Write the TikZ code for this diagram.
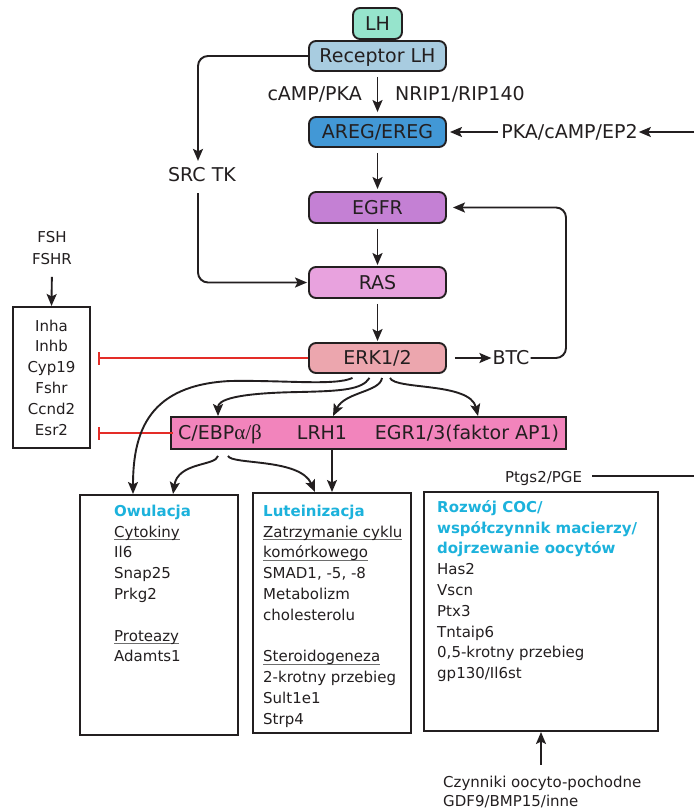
\documentclass[tikz,border=0pt]{standalone}
\usepackage{fontspec}
\setmainfont{DejaVu Sans}
\newfontfamily\greekfont{Liberation Serif}
\usetikzlibrary{arrows.meta}

\definecolor{ink}{RGB}{35,31,32}
\definecolor{lhfill}{RGB}{150,228,204}
\definecolor{recfill}{RGB}{168,204,224}
\definecolor{aregfill}{RGB}{66,152,214}
\definecolor{egfrfill}{RGB}{196,128,212}
\definecolor{rasfill}{RGB}{232,162,222}
\definecolor{erkfill}{RGB}{236,166,174}
\definecolor{tffill}{RGB}{242,132,188}
\definecolor{headcol}{RGB}{28,178,220}
\definecolor{inhcol}{RGB}{228,45,40}
\definecolor{rulecol}{RGB}{110,110,110}

\newcommand\mainsz{\fontsize{19}{23}\selectfont}
\newcommand\smallsz{\fontsize{15}{20.8}\selectfont}
\newcommand\headtxt[1]{{\bfseries\color{headcol}#1}}
\newsavebox\ulbox
\newcommand\ulword[1]{\sbox\ulbox{#1}\rlap{\color{rulecol}\rule[-2.8pt]{\wd\ulbox}{1pt}}\usebox\ulbox}
\newcommand\firststrut{\rule{0pt}{12.5pt}}

\begin{document}
\begin{tikzpicture}[x=1pt,y=-1pt,
  pbox/.style={draw=ink, line width=1.9pt, rounded corners=7pt, inner sep=0pt,
    minimum width=137pt, minimum height=30pt, font=\mainsz, text=ink,
    text height=13.8pt, text depth=0pt},
  lbl/.style={font=\mainsz, text=ink, inner sep=0pt, text height=13.8pt, text depth=0pt},
  slbl/.style={font=\smallsz, text=ink, inner sep=0pt},
  panel/.style={draw=ink, line width=2pt, fill=white, inner sep=0pt},
  arr/.style={draw=ink, line width=1.9pt, -{Stealth[length=12pt,width=10pt,inset=2.5pt]}},
  link/.style={draw=ink, line width=1.9pt},
  inh/.style={draw=inhcol, line width=1.5pt, -{Bar[width=13pt,line width=1.5pt]}}
]
\path[use as bounding box, fill=white] (0,0) rectangle (694,809);

% signalling cascade
\node[pbox, fill=recfill] (rec) at (377.5,56) {Receptor LH};
\node[pbox, fill=lhfill, minimum width=49pt, minimum height=31pt] (lh) at (377.5,23.5) {LH};
\node[pbox, fill=aregfill] (areg) at (377.5,132) {AREG/EREG};
\node[pbox, fill=egfrfill, minimum height=31pt] (egfr) at (377.5,207.5) {EGFR};
\node[pbox, fill=rasfill, minimum height=31pt] (ras) at (377.5,282.5) {RAS};
\node[pbox, fill=erkfill] (erk) at (377.5,358) {ERK1/2};

% transcription factor bar
\node[draw=ink, line width=1.9pt, fill=tffill, minimum width=395pt, minimum height=32pt, inner sep=0pt] (cebp) at (368.5,433) {};
\node[lbl] (cebpt) at (220,433) {C/EBP{\greekfont\fontsize{21}{23}\selectfont α/β}};
\node[lbl] (lrh) at (322,433) {LRH1};
\node[lbl] (egr) at (467,433) {EGR1/3(faktor AP1)};

% side labels
\node[lbl, anchor=east] (camp) at (362,94) {cAMP/PKA};
\node[lbl, anchor=west] (nrip) at (395,94) {NRIP1/RIP140};
\node[lbl] (pka) at (569.5,132) {PKA/cAMP/EP2};
\node[lbl] (src) at (202,175) {SRC TK};
\node[lbl] (btc) at (511,358) {BTC};
\coordinate (pkaend) at (694,132);
\coordinate (btcturn) at (566,207.5);

% granulosa genes
\node[slbl, align=center, font=\fontsize{15}{22}\selectfont] (fsh) at (52,248) {FSH\\FSHR};
\node[panel, minimum width=77pt, minimum height=141pt, font=\smallsz, align=center, text=ink] (genes) at (51.5,377.5) {Inha\\Inhb\\Cyp19\\Fshr\\Ccnd2\\Esr2};

% outcome panels
\node[panel, minimum width=158pt, minimum height=240pt] (owu) at (159,615) {};
\node[panel, minimum width=158pt, minimum height=240pt] (lut) at (332,613) {};
\node[panel, minimum width=234pt, minimum height=239pt] (coc) at (541,611.5) {};

\node[slbl, align=left, anchor=north west] (owutxt) at (114,503.5)
  {\firststrut\headtxt{Owulacja}\\\ulword{Cytokiny}\\Il6\\Snap25\\Prkg2\\[20.8pt]\ulword{Proteazy}\\Adamts1};
\node[slbl, align=left, anchor=north west] (luttxt) at (263,503.5)
  {\firststrut\headtxt{Luteinizacja}\\\ulword{Zatrzymanie cyklu}\\\ulword{komórkowego}\\SMAD1, -5, -8\\Metabolizm\\cholesterolu\\[20.8pt]\ulword{Steroidogeneza}\\2-krotny przebieg\\Sult1e1\\Strp4};
\node[slbl, align=left, anchor=north west] (coctxt) at (437,499.5)
  {\firststrut\headtxt{Rozwój COC/}\\\headtxt{współczynnik macierzy/}\\\headtxt{dojrzewanie oocytów}\\Has2\\Vscn\\Ptx3\\Tntaip6\\0,5-krotny przebieg\\gp130/Il6st};

\node[slbl, anchor=base] (ptgs) at (543.5,482) {Ptgs2/PGE};
\coordinate (pgeend) at (694,476);
\node[slbl, align=left, anchor=north west, font=\fontsize{15}{19}\selectfont] (oocyte) at (443,774.5)
  {\firststrut Czynniki oocyto-pochodne\\GDF9/BMP15/inne};

% main vertical chain
\draw[arr, shorten <=5pt, shorten >=4pt] (rec.south) -- (areg.north);
\draw[arr, shorten <=5pt, shorten >=2pt] (areg.south) -- (egfr.north);
\draw[arr, shorten <=5pt, shorten >=1pt] (egfr.south) -- (ras.north);
\draw[arr, shorten <=5pt, shorten >=1pt] (ras.south) -- (erk.north);

% inputs from the right
\draw[arr, shorten >=1pt] (pkaend) -- (pka.east);
\draw[arr, shorten <=3pt, shorten >=3pt] (pka.west) -- (areg.east);

% SRC TK bypass
\draw[arr, rounded corners=10pt, shorten >=7pt] (rec.west) -| ([xshift=-4pt]src.north);
\draw[arr, rounded corners=10pt, shorten <=11pt, shorten >=1pt] ([xshift=-4pt]src.south) |- (ras.west);

% BTC feedback loop
\draw[arr, shorten <=8pt, shorten >=1pt] (erk.east) -- (btc.west);
\draw[arr, rounded corners=10pt, shorten <=1pt, shorten >=6pt] (btc.east) -| (btcturn) -- (egfr.east);

% FSH input and inhibition of granulosa genes
\draw[arr, shorten <=12pt] (fsh.south) -- (genes.north);
\draw[inh, shorten >=7pt] (erk.west) -- (erk.west -| genes.east);
\draw[inh, shorten >=7pt, shorten <=-3pt] (cebp.west) -- (cebp.west -| genes.east);

% ERK1/2 targets
\draw[arr] ([xshift=-25pt,yshift=-4pt]erk.south) .. controls (335,386) and (285,380) .. (230,381)
  .. controls (150,385) and (133,430) .. ([xshift=-26pt]owu.north);
\draw[arr] ([xshift=-8pt,yshift=-4pt]erk.south) .. controls (362,390) and (340,391) .. (300,392)
  .. controls (235,393) and (218,400) .. ([xshift=-150.5pt]cebp.north);
\draw[arr] ([xshift=4.5pt,yshift=-4pt]erk.south) .. controls (380,392) and (345,392) .. ([xshift=-35.5pt]cebp.north);
\draw[arr] ([xshift=12.5pt,yshift=-4pt]erk.south) .. controls (395,390) and (470,382) .. ([xshift=109.5pt]cebp.north);

% transcription factor targets
\draw[arr] ([xshift=-150.5pt,yshift=-6pt]cebp.south) .. controls (216,466) and (178,462) .. ([xshift=14pt]owu.north);
\draw[arr] ([xshift=-140.5pt,yshift=-6pt]cebp.south) .. controls (232,465) and (300,458) .. ([xshift=-17pt]lut.north);
\draw[arr] (lut.north |- cebp.south) -- (lut.north);

% prostaglandin line and oocyte factors
\draw[link, shorten <=10pt] (pgeend -| ptgs.east) -- (pgeend);
\draw[arr, shorten <=10pt] (oocyte.north -| coc.south) -- (coc.south);

\end{tikzpicture}
\end{document}
